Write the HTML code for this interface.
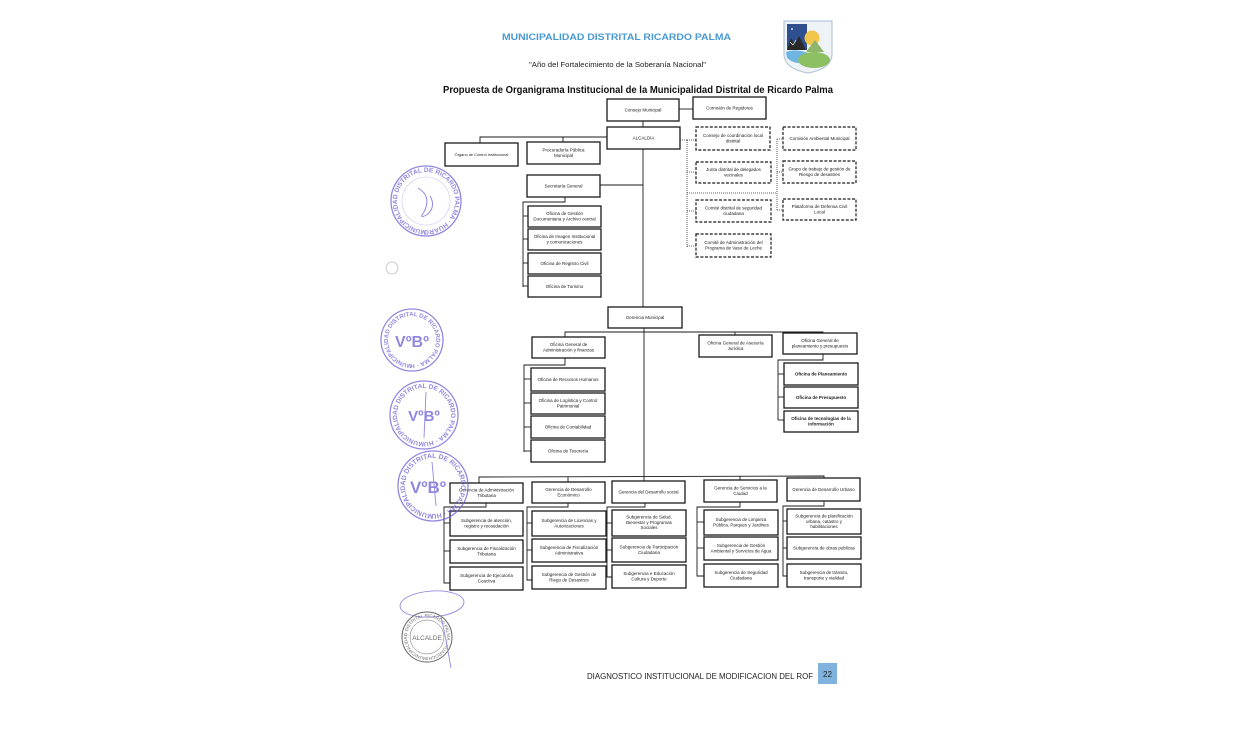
<!DOCTYPE html>
<html><head><meta charset="utf-8"><style>
html,body{margin:0;padding:0;background:#fff;}
svg{display:block}
.t{font-family:"Liberation Sans",Arial,sans-serif;font-size:4.5px;text-anchor:middle;fill:#1a1a1a}
.b{fill:#fff;stroke:#1a1a1a;stroke-width:1.3}
.d{fill:#fff;stroke:#1a1a1a;stroke-width:1.2;stroke-dasharray:3 1.6}
.l{stroke:#1a1a1a;stroke-width:0.9;fill:none}
.dl{stroke:#333;stroke-width:0.8;fill:none;stroke-dasharray:1 1}
.st{fill:none;stroke:#6d61d6}
.stt{font-family:"Liberation Sans",Arial,sans-serif;fill:#6d61d6;font-weight:bold}
</style></head><body>
<svg width="1241" height="730" viewBox="0 0 1241 730" xmlns="http://www.w3.org/2000/svg">
<rect width="1241" height="730" fill="#fff"/>

<!-- Header -->
<text x="502" y="40" font-family="Liberation Sans,Arial,sans-serif" font-weight="bold" font-size="9.4" fill="#4a9ad4" textLength="229" lengthAdjust="spacingAndGlyphs">MUNICIPALIDAD DISTRITAL RICARDO PALMA</text>
<text x="529" y="67" font-family="Liberation Sans,Arial,sans-serif" font-size="7" fill="#222" textLength="177" lengthAdjust="spacingAndGlyphs">"Año del Fortalecimiento de la Soberanía Nacional"</text>
<text x="443" y="93" font-family="Liberation Sans,Arial,sans-serif" font-weight="bold" font-size="9.8" fill="#111" textLength="390" lengthAdjust="spacingAndGlyphs">Propuesta de Organigrama Institucional de la Municipalidad Distrital de Ricardo Palma</text>

<!-- Logo -->
<g>
<path d="M784,21 L832,21 L832,55 Q831,69 808,73 Q785,69 784,55 Z" fill="#eef3f8" stroke="#b8c6d6" stroke-width="1.2"/>
<path d="M787,24 L807,24 L807,50 L787,50 Z" fill="#2f4f8f"/>
<circle cx="792" cy="29" r="0.9" fill="#fff"/>
<path d="M787,50 L791,38 L795,44 L799,36 L806,50 Z" fill="#2a2a2a"/>
<path d="M790,42 L793,45 L796,40" stroke="#fff" stroke-width="0.6" fill="none"/>
<circle cx="812" cy="38" r="7.5" fill="#f2c64a"/>
<path d="M806,52 L815,40 L824,52 Z" fill="#8fb56a"/>
<path d="M786,52 Q797,48 810,54 L810,62 Q796,66 787,58 Z" fill="#6fb4e2"/>
<ellipse cx="814" cy="60" rx="16" ry="8" fill="#8cc063"/>
</g>

<!-- Connectors -->
<g class="l">
<line x1="679" y1="109" x2="693" y2="109"/>
<line x1="643" y1="121" x2="643" y2="127"/>
<polyline points="480,143 480,137 607,137"/>
<line x1="563" y1="137" x2="563" y2="142"/>
<line x1="643" y1="149" x2="643" y2="307"/>
<line x1="600" y1="185" x2="643" y2="185"/>
<polyline points="565,197 565,202 523,202 523,287"/>
<line x1="523" y1="216" x2="528" y2="216"/>
<line x1="523" y1="239" x2="528" y2="239"/>
<line x1="523" y1="263" x2="528" y2="263"/>
<line x1="523" y1="286" x2="528" y2="286"/>
<line x1="644" y1="328" x2="644" y2="481"/>
<polyline points="565,337 565,332 823,332 823,333"/>
<line x1="735" y1="332" x2="735" y2="335"/>
<polyline points="565,358 565,365 524,365 524,452"/>
<line x1="524" y1="379" x2="531" y2="379"/>
<line x1="524" y1="403" x2="531" y2="403"/>
<line x1="524" y1="427" x2="531" y2="427"/>
<line x1="524" y1="451" x2="531" y2="451"/>
<polyline points="823,354 823,360 778,360 778,420"/>
<line x1="778" y1="374" x2="784" y2="374"/>
<line x1="778" y1="397" x2="784" y2="397"/>
<line x1="778" y1="420" x2="784" y2="420"/>
<polyline points="479,483 479,477 824,476 824,478"/>
<line x1="568" y1="477" x2="568" y2="482"/>
<line x1="740" y1="476" x2="740" y2="480"/>
<polyline points="486,503 486,507 444,507 444,583 450,583"/>
<line x1="444" y1="523" x2="450" y2="523"/>
<line x1="444" y1="551" x2="450" y2="551"/>
<polyline points="568,503 568,507 527,507 527,580 532,580"/>
<line x1="527" y1="523" x2="532" y2="523"/>
<line x1="527" y1="550" x2="532" y2="550"/>
<polyline points="645,503 645,507 607,507 607,577 612,577"/>
<line x1="607" y1="523" x2="612" y2="523"/>
<line x1="607" y1="550" x2="612" y2="550"/>
<polyline points="740,502 740,507 697,507 697,576 704,576"/>
<line x1="697" y1="522" x2="704" y2="522"/>
<line x1="697" y1="548" x2="704" y2="548"/>
<polyline points="824,501 824,506 783,506 783,576 787,576"/>
<line x1="783" y1="521" x2="787" y2="521"/>
<line x1="783" y1="548" x2="787" y2="548"/>
</g>
<g class="dl">
<line x1="680" y1="140" x2="687" y2="140"/>
<line x1="687" y1="140" x2="687" y2="247"/>
<line x1="687" y1="140" x2="696" y2="140"/>
<line x1="687" y1="172" x2="696" y2="172"/>
<line x1="687" y1="211" x2="696" y2="211"/>
<line x1="687" y1="246" x2="696" y2="246"/>
<line x1="687" y1="193" x2="777" y2="193"/>
<line x1="777" y1="139" x2="777" y2="210"/>
<line x1="777" y1="139" x2="783" y2="139"/>
<line x1="777" y1="172" x2="783" y2="172"/>
<line x1="777" y1="210" x2="783" y2="210"/>
</g>

<!-- Solid boxes -->
<g>
<rect class="b" x="607" y="99" width="72" height="22"/><text class="t" x="643" y="111.6">Consejo Municipal</text>
<rect class="b" x="693" y="97" width="73" height="22"/><text class="t" x="729.5" y="109.6">Comisión de Regidores</text>
<rect class="b" x="607" y="127" width="73" height="22"/><text class="t" x="643.5" y="139.6">ALCALDIA</text>
<rect class="b" x="445" y="143" width="73" height="23"/><text class="t" x="481.5" y="156.1" style="font-size:3.9px">Órgano de Control Institucional</text>
<rect class="b" x="527" y="142" width="73" height="22"/><text class="t" x="563.5" y="151.7">Procuraduría Pública</text><text class="t" x="563.5" y="157">Municipal</text>
<rect class="b" x="527" y="175" width="73" height="22"/><text class="t" x="563.5" y="187.6">Secretaría General</text>
<rect class="b" x="528" y="206" width="73" height="21"/><text class="t" x="564.5" y="215.2">Oficina de Gestión</text><text class="t" x="564.5" y="220.5">Documentaria y Archivo central</text>
<rect class="b" x="528" y="229" width="73" height="21"/><text class="t" x="564.5" y="238.2">Oficina de Imagen Institucional</text><text class="t" x="564.5" y="243.5">y comunicaciones</text>
<rect class="b" x="528" y="253" width="73" height="21"/><text class="t" x="564.5" y="265.1">Oficina de Registro Civil</text>
<rect class="b" x="528" y="276" width="73" height="21"/><text class="t" x="564.5" y="288.1">Oficina de Turismo</text>
<rect class="b" x="608" y="307" width="74" height="21"/><text class="t" x="645" y="319.1">Gerencia Municipal</text>
<rect class="b" x="532" y="337" width="73" height="21"/><text class="t" x="568.5" y="346.2">Oficina General de</text><text class="t" x="568.5" y="351.5">Administración y finanzas</text>
<rect class="b" x="699" y="335" width="73" height="22"/><text class="t" x="735.5" y="344.7">Oficina General de Asesoría</text><text class="t" x="735.5" y="350">Jurídica</text>
<rect class="b" x="783" y="333" width="74" height="21"/><text class="t" x="820" y="342.2">Oficina General de</text><text class="t" x="820" y="347.5">planeamiento y presupuesto</text>
<rect class="b" x="531" y="368" width="74" height="23"/><text class="t" x="568" y="381.1">Oficina de Recursos Humanos</text>
<rect class="b" x="531" y="393" width="74" height="21"/><text class="t" x="568" y="402.2">Oficina de Logística y Control</text><text class="t" x="568" y="407.5">Patrimonial</text>
<rect class="b" x="531" y="416" width="74" height="22"/><text class="t" x="568" y="428.6">Oficina de Contabilidad</text>
<rect class="b" x="531" y="440" width="74" height="22"/><text class="t" x="568" y="452.6">Oficina de Tesorería</text>
<rect class="b" x="784" y="363" width="74" height="22"/><text class="t" x="821" y="375.6" font-weight="bold">Oficina de Planeamiento</text>
<rect class="b" x="784" y="387" width="74" height="21"/><text class="t" x="821" y="399.1" font-weight="bold">Oficina de Presupuesto</text>
<rect class="b" x="784" y="411" width="74" height="21"/><text class="t" x="821" y="420.2" font-weight="bold">Oficina de tecnologías de la</text><text class="t" x="821" y="425.5" font-weight="bold">información</text>

<rect class="b" x="450" y="483" width="73" height="20"/><text class="t" x="486.5" y="491.7">Gerencia de Administración</text><text class="t" x="486.5" y="497">Tributaria</text>
<rect class="b" x="532" y="482" width="73" height="21"/><text class="t" x="568.5" y="491.2">Gerencia de Desarrollo</text><text class="t" x="568.5" y="496.5">Económico</text>
<rect class="b" x="612" y="481" width="73" height="22"/><text class="t" x="648.5" y="493.6">Gerencia del Desarrollo social</text>
<rect class="b" x="704" y="480" width="73" height="22"/><text class="t" x="740.5" y="489.7">Gerencia de Servicios a la</text><text class="t" x="740.5" y="495">Ciudad</text>
<rect class="b" x="787" y="478" width="73" height="23"/><text class="t" x="823.5" y="491.1">Gerencia de Desarrollo Urbano</text>

<rect class="b" x="450" y="511" width="73" height="25"/><text class="t" x="486.5" y="522.2">Subgerencia de atención,</text><text class="t" x="486.5" y="527.5">registro y recaudación</text>
<rect class="b" x="450" y="540" width="73" height="23"/><text class="t" x="486.5" y="550.2">Subgerencia de Fiscalización</text><text class="t" x="486.5" y="555.5">Tributaria</text>
<rect class="b" x="450" y="567" width="73" height="23"/><text class="t" x="486.5" y="577.2">Subgerencia de Ejecutoria</text><text class="t" x="486.5" y="582.5">Coactiva</text>
<rect class="b" x="532" y="511" width="74" height="25"/><text class="t" x="569" y="522.2">Subgerencia de Licencias y</text><text class="t" x="569" y="527.5">Autorizaciones</text>
<rect class="b" x="532" y="539" width="74" height="23"/><text class="t" x="569" y="549.2">Subgerencia de Fiscalización</text><text class="t" x="569" y="554.5">Administrativa</text>
<rect class="b" x="532" y="566" width="74" height="23"/><text class="t" x="569" y="576.2">Subgerencia de Gestión de</text><text class="t" x="569" y="581.5">Riego de Desastres</text>
<rect class="b" x="612" y="510" width="74" height="26"/><text class="t" x="649" y="518.6">Subgerencia de Salud,</text><text class="t" x="649" y="523.8">Bienestar y Programas</text><text class="t" x="649" y="529">Sociales</text>
<rect class="b" x="612" y="538" width="74" height="24"/><text class="t" x="649" y="548.7">Subgerencia de Participación</text><text class="t" x="649" y="554">Ciudadana</text>
<rect class="b" x="612" y="565" width="74" height="23"/><text class="t" x="649" y="575.2">Subgerencia e Educación</text><text class="t" x="649" y="580.5">Cultura y Deporte</text>
<rect class="b" x="704" y="510" width="74" height="25"/><text class="t" x="741" y="521.2">Subgerencia de Limpieza</text><text class="t" x="741" y="526.5">Pública, Parques y Jardines</text>
<rect class="b" x="704" y="537" width="74" height="23"/><text class="t" x="741" y="547.2">Subgerencia de Gestión</text><text class="t" x="741" y="552.5">Ambiental y Servicios de Agua</text>
<rect class="b" x="704" y="564" width="74" height="23"/><text class="t" x="741" y="574.2">Subgerencia de Seguridad</text><text class="t" x="741" y="579.5">Ciudadana</text>
<rect class="b" x="787" y="509" width="74" height="25"/><text class="t" x="824" y="517.6">Subgerencia de planificación</text><text class="t" x="824" y="522.8">urbana, catastro y</text><text class="t" x="824" y="528">habilitaciones</text>
<rect class="b" x="787" y="537" width="74" height="22"/><text class="t" x="824" y="549.6">Subgerencia de obras publicas</text>
<rect class="b" x="787" y="564" width="74" height="23"/><text class="t" x="824" y="574.2">Subgerencia de tránsito,</text><text class="t" x="824" y="579.5">transporte y vialidad</text>
</g>

<!-- Dashed boxes -->
<g>
<rect class="d" x="696" y="127" width="74" height="23"/><text class="t" x="733" y="137.2">Consejo de coordinación local</text><text class="t" x="733" y="142.5">distrital</text>
<rect class="d" x="696" y="162" width="75" height="21"/><text class="t" x="733.5" y="171.2">Junta distrital de delegados</text><text class="t" x="733.5" y="176.5">vecinales</text>
<rect class="d" x="696" y="200" width="75" height="22"/><text class="t" x="733.5" y="209.7">Comité distrital de seguridad</text><text class="t" x="733.5" y="215">ciudadana</text>
<rect class="d" x="696" y="234" width="75" height="23"/><text class="t" x="733.5" y="244.2">Comité de Administración del</text><text class="t" x="733.5" y="249.5">Programa de Vaso de Leche</text>
<rect class="d" x="783" y="127" width="73" height="23"/><text class="t" x="819.5" y="140.1">Comisión Ambiental Municipal</text>
<rect class="d" x="783" y="161" width="73" height="22"/><text class="t" x="819.5" y="170.7">Grupo de trabajo de gestión de</text><text class="t" x="819.5" y="176">Riesgo de desastres</text>
<rect class="d" x="783" y="199" width="73" height="21"/><text class="t" x="819.5" y="208.2">Plataforma de Defensa Civil</text><text class="t" x="819.5" y="213.5">Local</text>
</g>

<!-- Stamps -->
<defs>
<path id="c1" d="M426,230 a29,29 0 1,1 0.1,0"/>
<path id="c2" d="M412,364 a24,24 0 1,1 0.1,0"/>
<path id="c3" d="M424,442 a27,27 0 1,1 0.1,0"/>
<path id="c4" d="M433,514 a28,28 0 1,1 0.1,0"/>
<path id="c5" d="M427,657 a20,20 0 1,1 0.1,0"/>
</defs>
<g opacity="0.75">
<circle class="st" cx="426" cy="201" r="35" stroke-width="1.3"/>
<circle class="st" cx="426" cy="201" r="24" stroke-width="0.6" opacity="0.5"/>
<text class="stt" font-size="6.5"><textPath href="#c1">MUNICIPALIDAD DISTRITAL DE RICARDO PALMA · HUAROCHIRI ·</textPath></text>
<path class="st" stroke-width="1" d="M418,188 Q432,196 424,212 Q418,220 428,214 Q436,206 430,196"/>

<circle class="st" cx="412" cy="340" r="31" stroke-width="1.3"/>
<text class="stt" font-size="6"><textPath href="#c2">MUNICIPALIDAD DISTRITAL DE RICARDO PALMA · HUAROCHIRI ·</textPath></text>
<text class="stt" x="412" y="347" font-size="16" text-anchor="middle">VºBº</text>

<circle class="st" cx="424" cy="415" r="34" stroke-width="1.3"/>
<text class="stt" font-size="6.5"><textPath href="#c3">MUNICIPALIDAD DISTRITAL DE RICARDO PALMA · HUAROCHIRI - LIMA ·</textPath></text>
<text class="stt" x="424" y="421" font-size="15" text-anchor="middle">VºBº</text>
<path class="st" stroke-width="0.9" d="M426,392 L424,438"/>

<circle class="st" cx="433" cy="486" r="35" stroke-width="1.3"/>
<text class="stt" font-size="6.8"><textPath href="#c4">MUNICIPALIDAD DISTRITAL DE RICARDO PALMA · HUAROCHIRI ·</textPath></text>
<text class="stt" x="428" y="493" font-size="17" text-anchor="middle">VºBº</text>
<path class="st" stroke-width="0.9" d="M432,462 L436,506"/>

<ellipse class="st" cx="432" cy="604" rx="32" ry="13" stroke-width="0.9" transform="rotate(-4 432 604)"/>
<circle cx="427" cy="637" r="25" fill="none" stroke="#333" stroke-width="1"/>
<circle cx="427" cy="637" r="17" fill="none" stroke="#333" stroke-width="0.5"/>
<text x="0" y="0" font-family="Liberation Sans,Arial,sans-serif" font-size="4.5" fill="#333"><textPath href="#c5">MUNICIPALIDAD DISTRITAL RICARDO PALMA · HUAROCHIRI ·</textPath></text>
<text x="427" y="640" font-family="Liberation Sans,Arial,sans-serif" font-size="6.5" fill="#333" text-anchor="middle">ALCALDE</text>
<path class="st" stroke-width="0.9" d="M441,616 L446,640 L451,668"/>
</g>
<circle cx="392" cy="268" r="6" fill="none" stroke="#ccc" stroke-width="1"/>

<!-- Footer -->
<text x="587" y="679" font-family="Liberation Sans,Arial,sans-serif" font-size="8.3" fill="#222" textLength="226" lengthAdjust="spacingAndGlyphs">DIAGNOSTICO INSTITUCIONAL DE MODIFICACION DEL ROF</text>
<rect x="818" y="663" width="19" height="21" fill="#7fb3de"/>
<text x="827.5" y="677" font-family="Liberation Sans,Arial,sans-serif" font-size="8" fill="#222" text-anchor="middle">22</text>
</svg>
</body></html>
